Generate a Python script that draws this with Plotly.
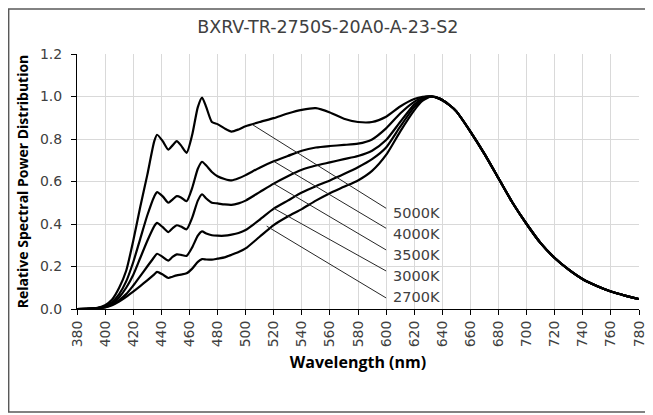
import plotly.graph_objects as go

# ---------------- data ----------------
wavelength = [380, 390, 395, 400, 405, 410, 415, 420, 425, 430, 435, 437, 441, 445, 448, 451, 454, 458,
              462, 466, 469, 472, 476, 480, 485, 490, 495, 500, 510, 520, 530, 540, 550, 560, 570, 580,
              590, 600, 610, 620, 626, 632, 638, 645, 650, 660, 670, 680, 690, 700, 710, 720, 730, 740,
              750, 760, 770, 780]

tail = [0.96, 0.93, 0.835, 0.73, 0.615, 0.50, 0.40, 0.31, 0.24, 0.185, 0.14, 0.108, 0.082, 0.063, 0.047]

spd_5000K = [0.0, 0.002, 0.006, 0.018, 0.045, 0.10, 0.18, 0.32, 0.48, 0.63, 0.79, 0.82, 0.79, 0.75, 0.77,
             0.79, 0.77, 0.735, 0.82, 0.95, 0.995, 0.95, 0.88, 0.87, 0.85, 0.835, 0.845, 0.86, 0.88, 0.898,
             0.92, 0.937, 0.945, 0.925, 0.895, 0.88, 0.88, 0.905, 0.953, 0.988, 0.998, 1.0, 0.99] + tail
spd_4000K = [0.0, 0.002, 0.005, 0.014, 0.033, 0.07, 0.13, 0.22, 0.33, 0.44, 0.53, 0.55, 0.53, 0.50, 0.515,
             0.531, 0.525, 0.507, 0.57, 0.66, 0.693, 0.675, 0.645, 0.625, 0.612, 0.605, 0.615, 0.63, 0.665, 0.695,
             0.72, 0.745, 0.76, 0.767, 0.772, 0.778, 0.798, 0.85, 0.92, 0.975, 0.995, 1.0, 0.99] + tail
spd_3500K = [0.0, 0.002, 0.004, 0.011, 0.026, 0.055, 0.10, 0.16, 0.24, 0.32, 0.39, 0.405, 0.385, 0.362, 0.38,
             0.394, 0.388, 0.375, 0.43, 0.51, 0.54, 0.52, 0.50, 0.497, 0.492, 0.49, 0.497, 0.51, 0.55, 0.59,
             0.625, 0.655, 0.675, 0.69, 0.705, 0.72, 0.745, 0.795, 0.88, 0.962, 0.99, 1.0, 0.99] + tail
spd_3000K = [0.0, 0.002, 0.004, 0.009, 0.021, 0.042, 0.07, 0.11, 0.155, 0.20, 0.245, 0.26, 0.245, 0.228, 0.245,
             0.257, 0.255, 0.25, 0.29, 0.345, 0.365, 0.355, 0.347, 0.345, 0.345, 0.35, 0.358, 0.372, 0.42, 0.472,
             0.51, 0.548, 0.578, 0.605, 0.635, 0.667, 0.705, 0.76, 0.858, 0.95, 0.985, 1.0, 0.99] + tail
spd_2700K = [0.0, 0.002, 0.004, 0.008, 0.018, 0.035, 0.057, 0.082, 0.108, 0.135, 0.163, 0.175, 0.162, 0.146, 0.152,
             0.158, 0.162, 0.168, 0.19, 0.222, 0.235, 0.233, 0.232, 0.237, 0.243, 0.255, 0.268, 0.285, 0.34, 0.395,
             0.435, 0.47, 0.51, 0.545, 0.575, 0.605, 0.65, 0.725, 0.835, 0.935, 0.98, 1.0, 0.99] + tail

series_names = ["5000K", "4000K", "3500K", "3000K", "2700K"]
series_values = [spd_5000K, spd_4000K, spd_3500K, spd_3000K, spd_2700K]

# leader lines: start on curve (wavelength, value) -> end near label
leader_start_wl = [505, 520, 520, 520, 515]
leader_start_val = [0.867, 0.695, 0.59, 0.474, 0.39]
leader_end_wl = [600, 600, 600, 600, 600]
leader_end_val = [0.474, 0.38, 0.278, 0.179, 0.052]
label_wl = [603.5, 603.5, 603.5, 603.5, 603.5]
label_val = [0.454, 0.353, 0.254, 0.155, 0.055]

x_ticks = list(range(380, 781, 20))
y_ticks = [0.0, 0.2, 0.4, 0.6, 0.8, 1.0, 1.2]

title_text = "BXRV-TR-2750S-20A0-A-23-S2"
x_title = "Wavelength (nm)"
y_title = "Relative Spectral Power Distribution"

# ---------------- figure ----------------
# the page body has an 8px margin, so the figure is drawn 8px up/left of the target positions
OFF = 8
W, H = 653, 415
plot_left, plot_right, plot_top, plot_bottom = 77.3 - OFF, 639 - OFF, 54 - OFF, 309 - OFF
ML, MR, MT, MB = plot_left, W - plot_right, plot_top, H - plot_bottom
TXT = "#404040"
FONT = "DejaVu Sans"

fig = go.Figure()
for name, vals in zip(series_names, series_values):
    fig.add_trace(go.Scatter(x=wavelength, y=vals, mode="lines", name=name,
                             line=dict(color="black", width=2.2, shape="spline", smoothing=0.6),
                             showlegend=False, hoverinfo="skip"))

for i in range(len(series_names)):
    fig.add_shape(type="line", xref="x", yref="y",
                  x0=leader_start_wl[i], y0=leader_start_val[i],
                  x1=leader_end_wl[i], y1=leader_end_val[i],
                  line=dict(color="#262626", width=1))
    fig.add_annotation(x=label_wl[i], y=label_val[i], xref="x", yref="y",
                       text=series_names[i], showarrow=False, xanchor="left", yanchor="middle",
                       font=dict(family=FONT, size=14.5, color=TXT))

pw = plot_right - plot_left
ph = plot_bottom - plot_top
# outer chart border (target: x 4..650, y 4..412 on screen)
bx0, bx1, by0, by1 = 1.0, 650 - OFF, 1.0, 412 - OFF
fig.add_shape(type="rect", xref="paper", yref="paper",
              x0=(bx0 - plot_left) / pw, x1=(bx1 - plot_left) / pw,
              y0=(plot_bottom - by1) / ph, y1=(plot_bottom - by0) / ph,
              line=dict(color="#595959", width=1.5), layer="below")

fig.update_layout(
    width=W, height=H,
    margin=dict(l=ML, r=MR, t=MT, b=MB, autoexpand=False),
    paper_bgcolor="white", plot_bgcolor="white",
    title=dict(text=title_text, x=(328 - OFF - plot_left) / pw, xref="paper", xanchor="center",
               y=1 - (27 - OFF) / H, yref="container", yanchor="middle",
               font=dict(family=FONT, size=17.5, color=TXT)),
    font=dict(family=FONT, color=TXT),
)

fig.update_xaxes(range=[380, 780], tickmode="array", tickvals=x_ticks, ticktext=[str(v) for v in x_ticks],
                 tickangle=-90, ticks="outside", ticklen=5, tickcolor="black",
                 showline=True, linecolor="black", linewidth=1,
                 showgrid=True, gridcolor="#d9d9d9", gridwidth=1, zeroline=False,
                 tickfont=dict(family=FONT, size=14, color=TXT),
                 title=dict(text=x_title, standoff=10,
                            font=dict(family="Open Sans", size=16, color="black", weight="bold")))
fig.update_yaxes(range=[0, 1.2], tickmode="array", tickvals=y_ticks, ticktext=[f"{v:.1f}" for v in y_ticks],
                 ticks="outside", ticklen=5, tickcolor="black",
                 showline=True, linecolor="black", linewidth=1,
                 showgrid=True, gridcolor="#d9d9d9", gridwidth=1, zeroline=False,
                 tickfont=dict(family=FONT, size=14, color=TXT), ticklabelstandoff=6,
                 title=dict(text=y_title, standoff=8,
                            font=dict(family="Open Sans", size=14, color="black", weight="bold")))

fig.write_html("out.html")
